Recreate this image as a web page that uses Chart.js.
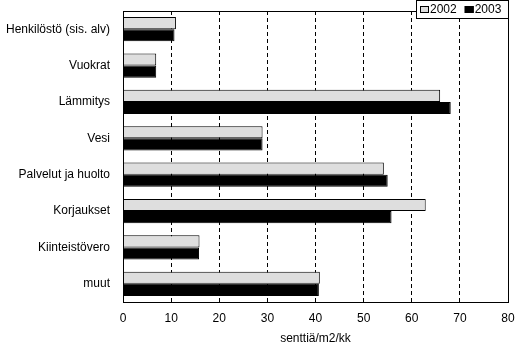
<!DOCTYPE html>
<html>
<head>
<meta charset="utf-8">
<script src="https://cdn.jsdelivr.net/npm/chart.js@4"></script>
<style>
  html, body { margin: 0; padding: 0; background: #fff; }
  #wrap { width: 517px; height: 346px; position: relative; }
</style>
</head>
<body>
<div id="wrap"><canvas id="myChart"></canvas></div>
<script>
var categories = ['Henkilöstö (sis. alv)', 'Vuokrat', 'Lämmitys', 'Vesi', 'Palvelut ja huolto', 'Korjaukset', 'Kiinteistövero', 'muut'];
var values2002 = [11.0, 6.9, 65.9, 29.0, 54.2, 62.9, 15.9, 40.9];
var values2003 = [10.7, 6.9, 68.1, 29.0, 55.0, 55.8, 15.8, 40.7];
var seriesLabels = ['2002', '2003'];
var xTicks = [0, 10, 20, 30, 40, 50, 60, 70, 80];

var FONT = 'Liberation Sans, Arial, sans-serif';

// frame round the plot and the boxed legend in the top right corner
var framePlugin = {
    id: 'frame',
    afterDraw: function(chart) {
        var c = chart.ctx, a = chart.chartArea;
        var r = Math.round(a.right);
        c.save();
        c.strokeStyle = '#000';
        c.lineWidth = 1;
        c.setLineDash([]);
        c.strokeRect(Math.round(a.left) + 0.5, Math.round(a.top) + 0.5,
                     Math.round(a.right - a.left), Math.round(a.bottom - a.top));

        // legend
        c.fillStyle = '#fff';
        c.fillRect(416, 0, r - 416, 19);
        c.strokeRect(416.5, 0.5, r - 416, 18);
        var ds = chart.data.datasets;
        var x = 420;
        c.font = '12px ' + FONT;
        c.textBaseline = 'middle';
        for (var i = 0; i < ds.length; i++) {
            c.fillStyle = ds[i].backgroundColor;
            c.fillRect(x, 6, 9, 7);
            c.strokeStyle = '#000';
            c.strokeRect(x + 0.5, 6.5, 8, 6);
            c.fillStyle = '#000';
            c.fillText(ds[i].label, x + 10, 10);
            x += c.measureText(ds[i].label).width + 18;
        }
        c.restore();
    }
};

var ctx = document.getElementById('myChart').getContext('2d');
var chart = new Chart(ctx, {
    type: 'bar',
    data: {
        labels: categories,
        datasets: [{
            label: seriesLabels[0],
            backgroundColor: '#dedede',
            borderColor: '#000',
            borderWidth: 1,
            data: values2002
        }, {
            label: seriesLabels[1],
            backgroundColor: '#000',
            borderColor: '#000',
            borderWidth: 1,
            data: values2003
        }]
    },
    options: {
        indexAxis: 'y',
        responsive: true,
        maintainAspectRatio: false,
        animation: false,
        layout: { padding: { top: 11, right: 9, left: 0, bottom: 0 } },
        categoryPercentage: 0.67,
        barPercentage: 1.0,
        plugins: {
            legend: { display: false },
            tooltip: { enabled: false }
        },
        scales: {
            x: {
                min: 0,
                max: 80,
                afterBuildTicks: function(scale) {
                    scale.ticks = xTicks.map(function(v) { return { value: v }; });
                },
                grid: {
                    drawTicks: false,
                    color: function(c) {
                        return (c.tick && (c.tick.value === 0 || c.tick.value === 80)) ? 'rgba(0,0,0,0)' : '#000';
                    },
                    lineWidth: 1
                },
                border: { display: true, color: '#000', dash: [4, 3] },
                ticks: { color: '#000', padding: 9, font: { family: FONT, size: 12 } },
                title: {
                    display: true,
                    text: 'senttiä/m2/kk',
                    color: '#000',
                    padding: { top: 0, bottom: 0 },
                    font: { family: FONT, size: 12 }
                },
                afterFit: function(scale) {
                    scale.height = 44;
                    scale.paddingLeft = 0;
                    scale.paddingRight = 0;
                }
            },
            y: {
                grid: { display: false, drawTicks: false },
                border: { display: false },
                ticks: { color: '#000', padding: 13, font: { family: FONT, size: 12 } },
                afterFit: function(scale) {
                    scale.width = 123;
                    scale.paddingTop = 0;
                    scale.paddingBottom = 0;
                }
            }
        }
    },
    plugins: [framePlugin]
});
</script>
</body>
</html>
